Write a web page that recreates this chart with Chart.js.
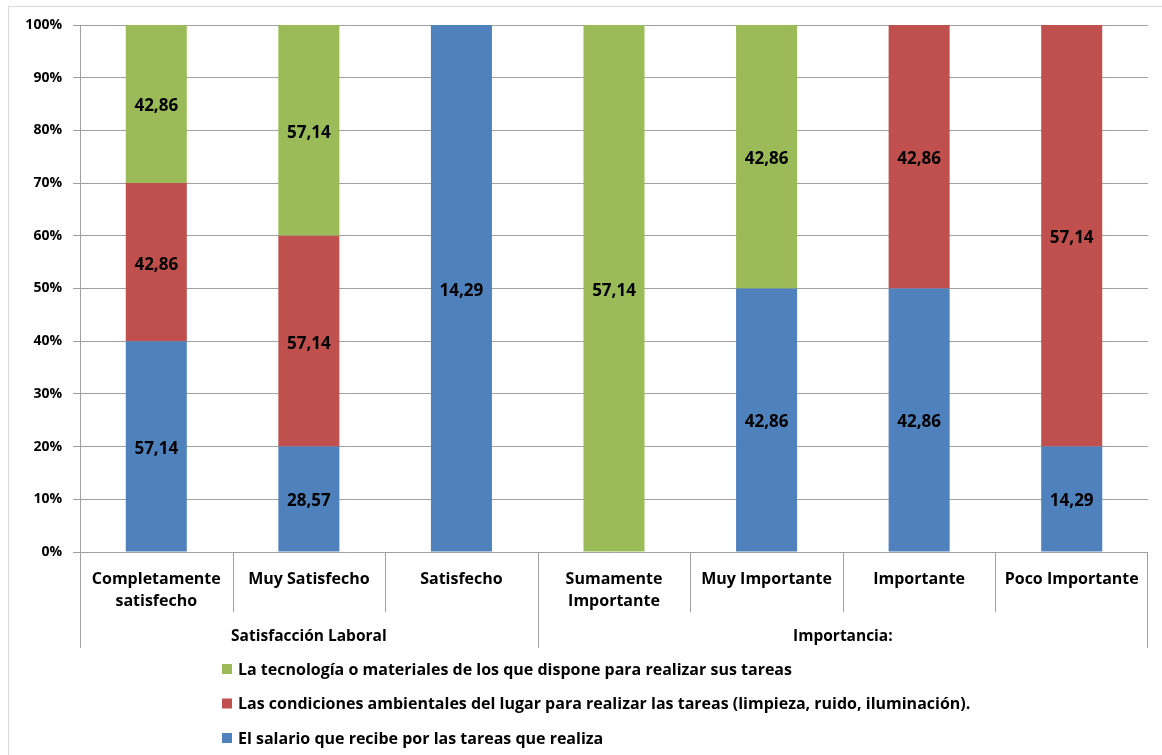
<!DOCTYPE html>
<html>
<head>
<meta charset="utf-8">
<script src="https://cdn.jsdelivr.net/npm/chart.js@4.4.1/dist/chart.umd.min.js"></script>
<style>
  html, body { margin: 0; padding: 0; background: #fff; }
  #wrap { width: 1162px; height: 755px; }
</style>
</head>
<body>
<div id="wrap"><canvas id="grafico" width="1162" height="755"></canvas></div>
<script>
// categorias y grupos del eje X
var categorias = [
  ['Completamente', 'satisfecho'],
  'Muy Satisfecho',
  'Satisfecho',
  ['Sumamente', 'Importante'],
  'Muy Importante',
  'Importante',
  'Poco Importante'
];
var grupos = [
  { nombre: 'Satisfacción Laboral', desde: 0, hasta: 2 },
  { nombre: 'Importancia:', desde: 3, hasta: 6 }
];

// valores de cada serie (se muestran como etiqueta, la barra es su % del total)
var salario     = [57.14, 28.57, 14.29, null, 42.86, 42.86, 14.29];
var condiciones = [42.86, 57.14, null, null, null, 42.86, 57.14];
var tecnologia  = [42.86, 57.14, null, 57.14, 42.86, null, null];

var nombres = [
  'El salario que recibe por las tareas que realiza',
  'Las condiciones ambientales del lugar para realizar las tareas (limpieza, ruido, iluminación).',
  'La tecnología o materiales de los que dispone para realizar sus tareas'
];
var colores = ['#4F81BD', '#C0504D', '#9BBB59'];

var yTicks = [0, 10, 20, 30, 40, 50, 60, 70, 80, 90, 100];

var series = [salario, condiciones, tecnologia];
var totales = categorias.map(function (c, i) {
  var s = 0;
  for (var k = 0; k < series.length; k++) s += series[k][i] || 0;
  return s;
});
function porcentaje(arr) {
  return arr.map(function (v, i) { return v == null ? null : v / totales[i] * 100; });
}

var FUENTE = '"Open Sans", sans-serif';

var datasets = series.map(function (s, k) {
  return {
    label: nombres[k],
    data: porcentaje(s),
    valores: s,
    backgroundColor: colores[k],
    borderWidth: 0,
    categoryPercentage: 1.0,
    barPercentage: 0.4
  };
});

// marco exterior, etiquetas de valores, separadores, grupos y leyenda
var extras = {
  id: 'extras',
  beforeDraw: function (chart) {
    var ctx = chart.ctx;
    ctx.save();
    ctx.strokeStyle = '#d9d9d9';
    ctx.lineWidth = 1;
    ctx.beginPath();
    ctx.moveTo(8.5, 760);
    ctx.lineTo(8.5, 6.5);
    ctx.lineTo(1162, 6.5);
    ctx.stroke();
    ctx.restore();
  },
  afterDraw: function (chart) {
    var ctx = chart.ctx;
    var x = chart.scales.x;
    var area = chart.chartArea;
    ctx.save();

    // valores sobre los segmentos
    ctx.font = 'bold 17px ' + FUENTE;
    ctx.fillStyle = '#000';
    ctx.textAlign = 'center';
    ctx.textBaseline = 'middle';
    chart.data.datasets.forEach(function (ds, k) {
      chart.getDatasetMeta(k).data.forEach(function (bar, i) {
        var v = ds.valores[i];
        if (v == null) return;
        var yc = (bar.y + bar.base) / 2;
        ctx.fillText(v.toFixed(2).replace('.', ','), bar.x, yc + 2.5);
      });
    });

    // separadores del eje X
    var ancho = (x.right - x.left) / categorias.length;
    ctx.strokeStyle = '#a0a0a0';
    ctx.lineWidth = 1;
    var fronteras = [];
    grupos.forEach(function (g) { fronteras.push(g.desde); });
    fronteras.push(categorias.length);
    for (var i = 0; i <= categorias.length; i++) {
      var px = Math.round(x.getPixelForValue(i) - ancho / 2) + 0.5;
      if (i === categorias.length) px = Math.round(x.getPixelForValue(i - 1) + ancho / 2) - 0.5;
      var largo = fronteras.indexOf(i) >= 0 ? 96 : 60;
      ctx.beginPath();
      ctx.moveTo(px, area.bottom);
      ctx.lineTo(px, area.bottom + largo);
      ctx.stroke();
    }

    // nombres de los grupos
    ctx.font = 'bold 15.5px ' + FUENTE;
    grupos.forEach(function (g) {
      var a = x.getPixelForValue(g.desde) - ancho / 2;
      var b = x.getPixelForValue(g.hasta) + ancho / 2;
      ctx.fillText(g.nombre, (a + b) / 2, area.bottom + 85);
    });

    // leyenda vertical
    ctx.font = 'bold 16px ' + FUENTE;
    ctx.textAlign = 'left';
    var orden = [2, 1, 0];
    orden.forEach(function (k, n) {
      var yc = 669 + n * 34.5;
      ctx.fillStyle = colores[k];
      ctx.fillRect(222, yc - 5, 10, 10);
      ctx.fillStyle = '#000';
      ctx.fillText(nombres[k], 238, yc + 1);
    });
    ctx.restore();
  }
};

new Chart(document.getElementById('grafico'), {
  type: 'bar',
  data: { labels: categorias, datasets: datasets },
  plugins: [extras],
  options: {
    responsive: false,
    animation: false,
    layout: { padding: { left: 0, top: 25, right: 14, bottom: 0 } },
    plugins: { legend: { display: false }, tooltip: { enabled: false } },
    scales: {
      x: {
        stacked: true,
        grid: { display: false },
        border: { display: false },
        ticks: {
          color: '#000',
          padding: 8,
          maxRotation: 0,
          autoSkip: false,
          font: { family: FUENTE, size: 16, weight: 'bold', lineHeight: 1.375 }
        },
        afterFit: function (s) { s.height = 203; }
      },
      y: {
        stacked: true,
        min: 0,
        max: 100,
        afterBuildTicks: function (s) { s.ticks = yTicks.map(function (v) { return { value: v }; }); },
        grid: { color: '#a0a0a0', tickLength: 7 },
        border: { color: '#a0a0a0' },
        ticks: {
          color: '#000',
          padding: 11,
          font: { family: FUENTE, size: 14, weight: 'bold' },
          callback: function (v) { return v + '%'; }
        },
        afterFit: function (s) { s.width = 80; }
      }
    }
  }
});
</script>
</body>
</html>
